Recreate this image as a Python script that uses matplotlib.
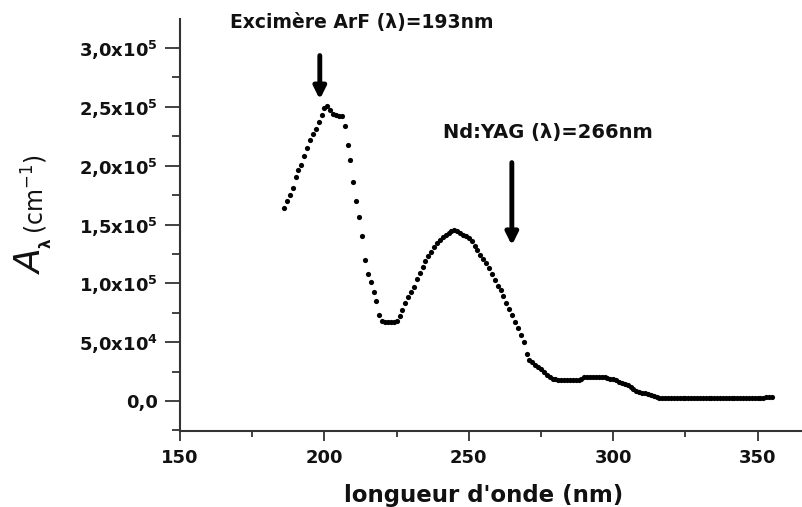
import matplotlib
matplotlib.use("Agg")
import matplotlib.pyplot as plt
from matplotlib.ticker import MultipleLocator, FixedLocator

# longueur d'onde (nm) et absorption A_lambda (cm-1)
longueur = list(range(186, 356))
absorption = [
    164000, 170000, 175000, 181000, 190000, 196000, 201000, 208000, 215000, 222000,
    227000, 231000, 237000, 243000, 249000, 251000, 247000, 244000, 243000, 242500,
    242000, 234000, 218000, 205000, 186000, 170000, 156000, 140000, 120000, 108000,
    101000, 93000, 85000, 73000, 68000, 67000, 67000, 67000, 67000, 68000,
    72000, 77000, 83000, 88000, 93000, 97000, 104000, 109000, 114000, 119000,
    123000, 127000, 131000, 134000, 137000, 139000, 141000, 143000, 144500, 145000,
    144500, 143000, 141000, 140000, 138500, 136000, 132000, 128000, 124000, 121000,
    117000, 113000, 108000, 103000, 98000, 94000, 89000, 83000, 78000, 73000,
    67000, 62000, 56000, 50000, 40000, 35000, 33000, 31000, 29000, 27000,
    25000, 22000, 20000, 19000, 18500, 18000, 18000, 18000, 18000, 18000,
    18000, 18000, 18000, 19000, 20000, 20500, 20500, 20500, 20500, 20500,
    20500, 20000, 19500, 19000, 18500, 17500, 16500, 15500, 14500, 13500,
    12000, 10000, 8500, 7500, 7000, 6500, 6000, 5500, 4500, 3000,
    2500, 2500, 2500, 2500, 2500, 2500, 2500, 2500, 2500, 2500,
    2500, 2500, 2500, 2500, 2500, 2500, 2500, 2500, 2500, 2500,
    2500, 2500, 2500, 2500, 2500, 2500, 2500, 2500, 2500, 2500,
    2500, 2500, 2500, 2500, 2500, 2500, 2500, 3000, 3400, 3500,
]

yticks = [0, 50000, 100000, 150000, 200000, 250000, 300000]
ylabels = ['0,0', r'5,0x10$^\mathbf{4}$', r'1,0x10$^\mathbf{5}$', r'1,5x10$^\mathbf{5}$',
           r'2,0x10$^\mathbf{5}$', r'2,5x10$^\mathbf{5}$', r'3,0x10$^\mathbf{5}$']

plt.rcParams['font.family'] = ['DejaVu Sans']
plt.rcParams['mathtext.fontset'] = 'dejavusans'

W, H = 803, 507
fig = plt.figure(figsize=(W / 100, H / 100), dpi=100, facecolor='w')
ax = fig.add_axes([0.2242, 0.1499, 0.775, 0.8126])

ax.scatter(longueur, absorption, s=14, c='black', marker='o', linewidths=0)

ax.set_xlim(150, 365.5)
ax.set_ylim(-25500, 324700)

ax.spines['top'].set_visible(False)
ax.spines['right'].set_visible(False)
for s in ['left', 'bottom']:
    ax.spines[s].set_linewidth(1.5)
    ax.spines[s].set_color('#333333')

ax.xaxis.set_major_locator(MultipleLocator(50))
ax.xaxis.set_minor_locator(MultipleLocator(25))
ax.yaxis.set_major_locator(FixedLocator(yticks))
ax.yaxis.set_minor_locator(MultipleLocator(25000))
ax.set_yticklabels(ylabels)

ax.tick_params(axis='y', which='major', length=11, width=1.3, direction='out',
               labelsize=13, pad=5, colors='#333333', labelcolor='#111111')
ax.tick_params(axis='y', which='minor', length=6, width=1.3, direction='out',
               colors='#333333')
ax.tick_params(axis='x', which='major', length=7, width=1.3, direction='out',
               labelsize=13, pad=6, colors='#333333', labelcolor='#111111')
ax.tick_params(axis='x', which='minor', length=4, width=1.3, direction='out',
               colors='#333333')
for lab in ax.get_xticklabels() + ax.get_yticklabels():
    lab.set_fontweight('bold')

# titres des axes
fig.text(484 / W, 1 - 502 / H, "longueur d'onde (nm)", fontsize=16.5,
         fontweight='bold', ha='center', va='baseline', color='#111111')
fig.text(32 / W, 1 - 262 / H, 'A', fontsize=26, fontstyle='italic',
         rotation=90, ha='center', va='center', color='#111111')
fig.text(46 / W, 1 - 243 / H, 'λ', fontsize=11, fontweight='bold',
         rotation=90, ha='center', va='center', color='#111111')
fig.text(35 / W, 1 - 194 / H, '(cm$^{-1}$)', fontsize=17,
         rotation=90, ha='center', va='center', color='#111111')

# fleches des lasers
ax.annotate('', xy=(198.4, 254000), xytext=(198.4, 296000),
            arrowprops=dict(arrowstyle='-|>', lw=3.5, color='black', mutation_scale=18))
ax.annotate('', xy=(264.9, 130000), xytext=(264.9, 205000),
            arrowprops=dict(arrowstyle='-|>', lw=3.5, color='black', mutation_scale=18))

ax.text(167.3, 322000, 'Excimère ArF (λ)=193nm', fontsize=13.5, fontweight='bold',
        va='center', ha='left', clip_on=False, color='#111111')
ax.text(241, 228000, 'Nd:YAG (λ)=266nm', fontsize=14, fontweight='bold',
        va='center', ha='left', color='#111111')

fig.savefig('out.png', dpi=100)
